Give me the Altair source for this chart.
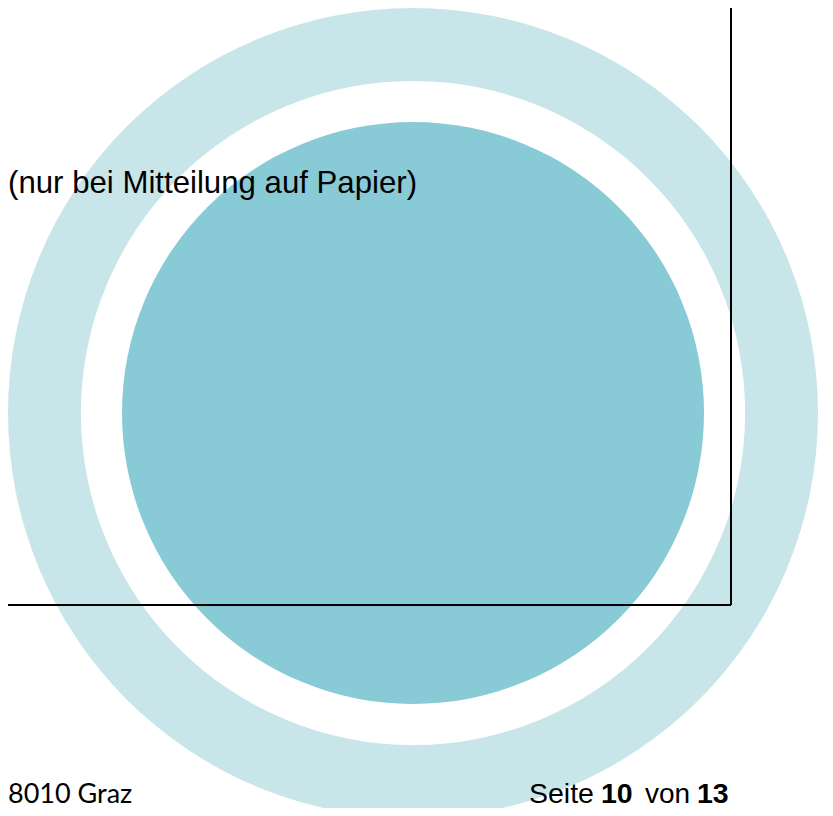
import altair as alt
import pandas as pd

# decorative circles (page pixel units)
ring_names = ["outer_ring", "inner_disc"]
ring_outer = [405, 291]
ring_inner = [332, 0]
ring_cx = [413, 413]
ring_cy = [413, 413]
ring_colors = ["#C8E6EA", "#88CAD5"]

# frame lines
line_x = [731, 8]
line_y = [8, 605]
line_x2 = [731, 731]
line_y2 = [605, 605]

# texts
texts = ["(nur bei Mitteilung auf Papier)", "8010 Graz", "Seite", "10", "von", "13"]
text_x = [8, 8, 529, 601, 645, 697]
text_y = [193, 803, 803, 803, 803, 803]
text_weight = ["normal", "normal", "normal", "bold", "normal", "bold"]
text_font = ["Liberation Sans", "Lato", "Liberation Sans",
             "Liberation Sans", "Liberation Sans", "Liberation Sans"]
text_size = [31.2, 27, 28.5, 28.5, 28, 28.5]

W, H = 817, 800
xs = alt.Scale(domain=[8, 8 + W], range=[0, W], nice=False, zero=False)
ys = alt.Scale(domain=[8, 8 + H], range=[0, H], nice=False, zero=False)
rs = alt.Scale(type="linear", domain=[0, 405], range=[0, 405], zero=True)

circ = pd.DataFrame({"name": ring_names, "r": ring_outer, "r2": ring_inner,
                     "cx": ring_cx, "cy": ring_cy, "color": ring_colors})
arcs = alt.Chart(circ).mark_arc(theta=0, theta2=6.2832, clip=True).encode(
    x=alt.X("cx:Q", scale=xs, axis=None),
    y=alt.Y("cy:Q", scale=ys, axis=None),
    radius=alt.Radius("r:Q", scale=rs),
    radius2="r2:Q",
    color=alt.Color("color:N", scale=None),
)

lines_df = pd.DataFrame({"x": line_x, "y": line_y, "x2": line_x2, "y2": line_y2})
lines = alt.Chart(lines_df).mark_rule(color="black", strokeWidth=2, clip=True).encode(
    x=alt.X("x:Q", scale=xs, axis=None), y=alt.Y("y:Q", scale=ys, axis=None),
    x2="x2:Q", y2="y2:Q",
)

layers = [arcs, lines]
for t, x, y, w, f, s in zip(texts, text_x, text_y, text_weight, text_font, text_size):
    df = pd.DataFrame({"t": [t], "x": [x], "y": [y]})
    layers.append(
        alt.Chart(df).mark_text(align="left", baseline="alphabetic", font=f, fontSize=s,
                                fontWeight=w, color="black").encode(
            x=alt.X("x:Q", scale=xs, axis=None), y=alt.Y("y:Q", scale=ys, axis=None),
            text="t:N")
    )

chart = alt.layer(*layers).properties(
    width=W, height=H, padding=0, autosize=alt.AutoSizeParams(type="none"),
    background="white",
).configure_view(stroke=None)

chart.save("out.html", embed_options={"renderer": "svg", "actions": False})
